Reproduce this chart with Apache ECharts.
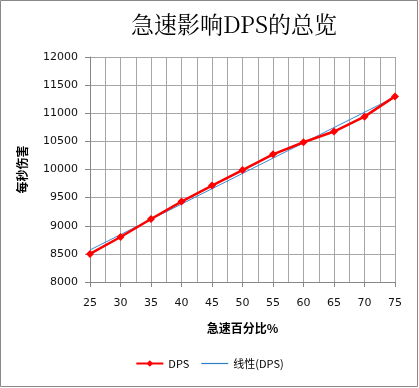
<!DOCTYPE html>
<html><head><meta charset="utf-8">
<script src="https://cdn.jsdelivr.net/npm/echarts@6/dist/echarts.min.js"></script>
<style>html,body{margin:0;padding:0;background:#fff}#c{width:419px;height:388px}</style>
</head><body><div id="c"></div>
<script>
const hastePct = [25, 30, 35, 40, 45, 50, 55, 60, 65, 70, 75];
const dpsValues = [8500, 8800, 9120, 9430, 9715, 9990, 10270, 10485, 10675, 10940, 11300];
const trendX = [25, 75];
const trendY = [8570, 11290];
const titleText = '急速影响DPS的总览';
const xName = '急速百分比%';
const yName = '每秒伤害';
const seriesNames = ['DPS', '线性(DPS)'];

const chart = echarts.init(document.getElementById('c'), null, {renderer: 'canvas'});
const lblFont = {color: '#111', fontSize: 11, fontFamily: 'Verdana, "DejaVu Sans", sans-serif'};
chart.setOption({
  animation: false,
  backgroundColor: '#fff',
  title: {text: titleText, left: 229, top: 8, textAlign: 'center',
    textStyle: {fontSize: 23, fontWeight: 'normal', color: '#000', fontFamily: '"Noto Serif CJK SC","Noto Sans CJK SC", serif'}},
  grid: {left: 90, right: 24, top: 57, bottom: 106},
  legend: {bottom: 14, left: 'center', itemGap: 12, itemWidth: 27, itemHeight: 8,
    textStyle: {fontSize: 11, color: '#000', fontFamily: '"Noto Sans CJK SC", sans-serif'},
    data: [{name: seriesNames[0]},
      {name: seriesNames[1], icon: 'path://M0,0L27,0L27,1.2L0,1.2Z', itemStyle: {color: '#2f7fc8'}}]},
  xAxis: {type: 'value', min: 25, max: 75, interval: 5,
    name: xName, nameLocation: 'middle', nameGap: 40,
    nameTextStyle: {fontSize: 12, fontWeight: 'bold', color: '#000', fontFamily: '"Noto Sans CJK SC", sans-serif'},
    axisLine: {show: true, lineStyle: {color: '#868686'}},
    axisTick: {show: true, length: 5, lineStyle: {color: '#868686'}},
    axisLabel: Object.assign({margin: 16, formatter: v => String(v)}, lblFont),
    splitLine: {show: true, lineStyle: {color: '#a6a6a6'}},
    minorTick: {show: false, splitNumber: 2},
    minorSplitLine: {show: true, lineStyle: {color: '#a6a6a6'}}},
  yAxis: {type: 'value', min: 8000, max: 12000, interval: 500,
    name: yName, nameLocation: 'middle', nameGap: 62, nameRotate: 90,
    nameTextStyle: {fontSize: 12, fontWeight: 'bold', color: '#000', fontFamily: '"Noto Sans CJK SC", sans-serif'},
    axisLine: {show: true, lineStyle: {color: '#868686'}},
    axisTick: {show: true, length: 5, lineStyle: {color: '#868686'}},
    axisLabel: Object.assign({margin: 12, formatter: v => String(v)}, lblFont),
    splitLine: {show: true, lineStyle: {color: '#a6a6a6'}}},
  series: [
    {name: seriesNames[0], type: 'line', data: hastePct.map((x, i) => [x, dpsValues[i]]),
      lineStyle: {width: 2.5, color: '#ff0000'},
      symbol: 'diamond', symbolSize: 8, itemStyle: {color: '#ff0000'}, z: 3},
    {name: seriesNames[1], type: 'line', data: trendX.map((x, i) => [x, trendY[i]]),
      lineStyle: {width: 1, color: '#3a8ad4'}, itemStyle: {color: '#3a8ad4'}, symbol: 'none', z: 2}
  ],
  graphic: [{type: 'rect', shape: {x: 0.5, y: 0.5, width: 417, height: 386},
    style: {fill: 'none', stroke: '#888', lineWidth: 1}, silent: true}]
});
</script></body></html>
